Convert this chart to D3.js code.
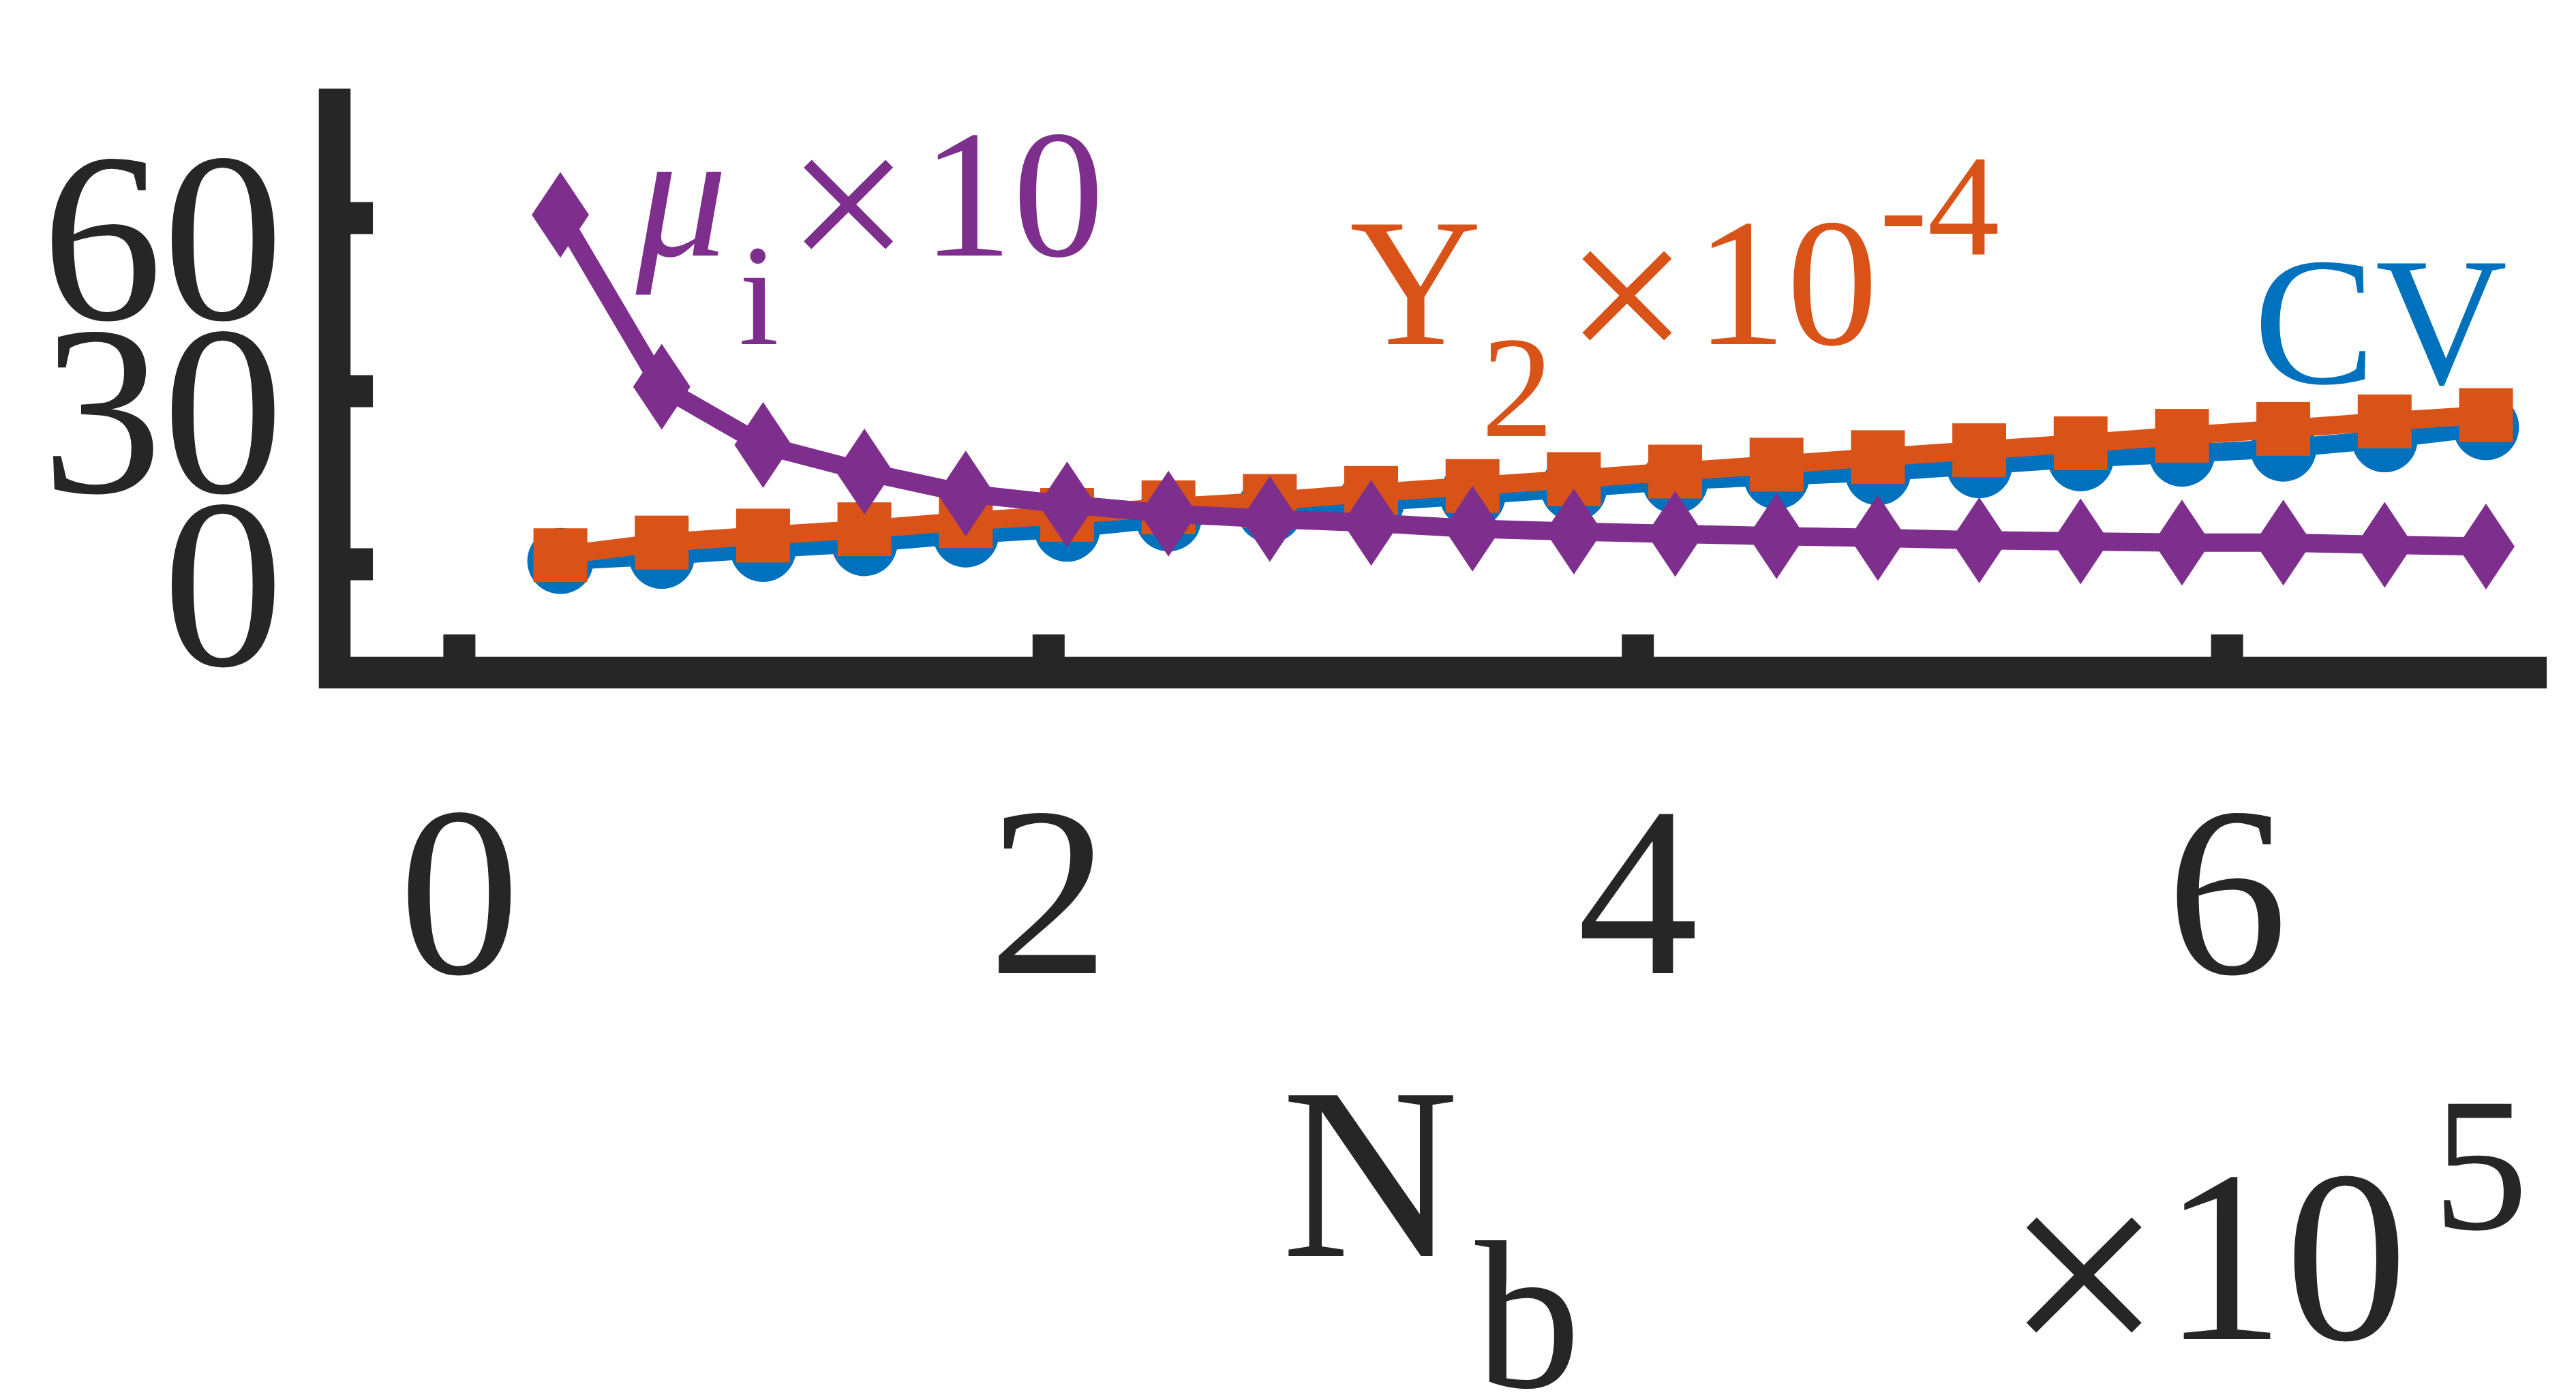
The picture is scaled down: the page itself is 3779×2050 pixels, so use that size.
<!DOCTYPE html>
<html>
<head>
<meta charset="utf-8">
<script src="https://cdn.jsdelivr.net/npm/d3@7"></script>
<style>
  html, body { margin: 0; padding: 0; background: #fff; }
  svg { display: block; }
</style>
</head>
<body>
<div id="chart"></div>
<script>
// N_b in units of 10^5
const nb = [0.344, 0.688, 1.032, 1.376, 1.72, 2.064, 2.408, 2.752, 3.096, 3.44,
            3.784, 4.128, 4.472, 4.816, 5.16, 5.504, 5.848, 6.192, 6.536, 6.88];
// CV
const cv = [0.5, 1.4, 2.6, 3.6, 5.1, 6.1, 7.9, 9.4, 10.7, 11.9,
            13.1, 14.4, 15.2, 15.9, 17.1, 18.3, 19.1, 20.0, 21.6, 23.7];
// Y_2 x 10^-4
const y2 = [1.5, 3.7, 4.9, 6.0, 7.4, 8.5, 9.8, 10.9, 12.3, 13.5,
            14.7, 16.0, 17.2, 18.5, 19.7, 20.9, 22.2, 23.4, 24.7, 25.8];
// mu_i x 10
const mu = [60.5, 30.7, 20.6, 16.0, 12.2, 10.3, 8.7, 7.8, 7.1, 6.1,
            5.6, 5.2, 4.8, 4.5, 4.1, 3.9, 3.7, 3.7, 3.3, 3.0];

const xTicks = [0, 2, 4, 6];
const yTicks = [0, 30, 60];

const width = 3779, height = 2050;
const axisColor = "#262626";
const blue = "#0072BD", orange = "#D95319", purple = "#7E2F8E";
const serif = '"Liberation Serif", "Times New Roman", serif';

const x = d3.scaleLinear().domain([-0.422, 7.086]).range([491, 3736]);
const y = d3.scaleLinear().domain([-18.85, 82.4]).range([987, 130]);

const svg = d3.select("#chart").append("svg")
    .attr("width", width)
    .attr("height", height)
    .style("background", "#fff");

// axis spine (box off, only left + bottom)
svg.append("path")
    .attr("d", `M${x.range()[0]},${y.range()[1]}V${y.range()[0]}H${x.range()[1]}`)
    .attr("fill", "none")
    .attr("stroke", axisColor)
    .attr("stroke-width", 46.5)
    .attr("stroke-linejoin", "miter")
    .attr("stroke-linecap", "butt");

const yAxis = svg.append("g")
    .attr("transform", `translate(${x(-0.422)},0)`)
    .call(d3.axisLeft(y).tickValues(yTicks).tickFormat(d3.format("d"))
        .tickSizeInner(-56).tickSizeOuter(0).tickPadding(75));
yAxis.select(".domain").remove();

const xAxis = svg.append("g")
    .attr("transform", `translate(0,${y(-18.85)})`)
    .call(d3.axisBottom(x).tickValues(xTicks).tickFormat(d3.format("d"))
        .tickSizeInner(-56).tickSizeOuter(0).tickPadding(189));
xAxis.select(".domain").remove();

for (const g of [xAxis, yAxis]) {
    g.selectAll(".tick line").attr("stroke", axisColor).attr("stroke-width", 47);
    g.selectAll(".tick text")
        .attr("fill", axisColor)
        .attr("font-family", serif)
        .attr("font-size", 355);
}
yAxis.selectAll(".tick text").attr("dy", "0.417em");
xAxis.selectAll(".tick text").attr("dy", "0.71em");

// series
const line = d3.line()
    .x(d => x(d[0]))
    .y(d => y(d[1]));

function series(values, color) {
    const pts = nb.map((v, i) => [v, values[i]]);
    const g = svg.append("g");
    g.append("path")
        .datum(pts)
        .attr("fill", "none")
        .attr("stroke", color)
        .attr("stroke-width", 27)
        .attr("stroke-linejoin", "round")
        .attr("d", line);
    return { g, pts };
}

const sCv = series(cv, blue);
sCv.g.selectAll("circle").data(sCv.pts).join("circle")
    .attr("cx", d => x(d[0]))
    .attr("cy", d => y(d[1]))
    .attr("r", 48.5)
    .attr("fill", blue);

const sY2 = series(y2, orange);
sY2.g.selectAll("rect").data(sY2.pts).join("rect")
    .attr("x", d => x(d[0]) - 39.5)
    .attr("y", d => y(d[1]) - 39.5)
    .attr("width", 79)
    .attr("height", 79)
    .attr("fill", orange);

const sMu = series(mu, purple);
sMu.g.selectAll("path.mk").data(sMu.pts).join("path")
    .attr("class", "mk")
    .attr("d", d => {
        const cx = x(d[0]), cy = y(d[1]);
        return `M${cx},${cy - 63}L${cx + 42},${cy}L${cx},${cy + 63}L${cx - 42},${cy}Z`;
    })
    .attr("fill", purple);

// labels built from pieces: [text, size, x offset, baseline offset, italic]
function label(px, py, color, pieces) {
    const t = svg.append("text")
        .attr("font-family", serif)
        .attr("fill", color);
    for (const [s, size, dx, dy, it] of pieces) {
        t.append("tspan")
            .attr("x", px + dx)
            .attr("y", py + dy)
            .attr("font-size", size)
            .attr("font-style", it ? "italic" : "normal")
            .text(s);
    }
}

label(x(0.600), y(53.44), purple, [
    ["\u03bc", 268, 0, 0, true],
    ["i", 212, 151, 130],
    ["\u00d7", 322, 221, 32],
    ["10", 268, 419, 0]
]);

label(x(3.023), y(38.09), orange, [
    ["Y", 268, 0, 0],
    ["2", 212, 193, 135],
    ["\u00d7", 322, 316, 36],
    ["10", 268, 507, 0],
    ["-4", 212, 777, -131]
]);

label(x(6.091), y(31.35), blue, [
    ["CV", 268, 0, 0]
]);

// x axis title and exponent
label(1880, 1843, axisColor, [
    ["N", 360, 0, 0],
    ["b", 310, 284, 192]
]);

label(2940, 1965, axisColor, [
    ["\u00d7", 415, 0, 44],
    ["10", 360, 232, 0],
    ["5", 280, 629, -162]
]);
</script>
</body>
</html>
